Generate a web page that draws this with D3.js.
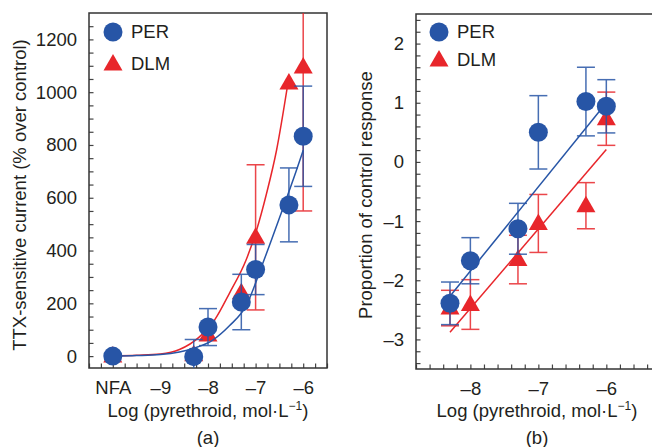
<!DOCTYPE html>
<html>
<head>
<meta charset="utf-8">
<script src="https://cdn.jsdelivr.net/npm/d3@7"></script>
<style>
  body { margin: 0; background: #fff; }
  svg text { font-family: "Liberation Sans", Arial, sans-serif; fill: #231f20; }
</style>
</head>
<body>
<svg id="content" width="652" height="447"></svg>
<script>
// colours
const BLUE = "#2755a6", RED = "#e8262b", INK = "#231f20";

// ---- panel (a) data: TTX-sensitive current (% over control)
const aDoses = [-10, -8.3, -8, -7.3, -7, -6.3, -6];          // -10 stands for NFA
const aPER = [0, -2, 110, 205, 328, 573, 833];
const aPERerr = [0, 65, 70, 105, 95, 140, 190];
const aDLM = [0, 5, 80, 240, 450, 1035, 1095];
const aDLMerr = [0, 0, 0, 0, 275, 0, 545];
// fitted curves
const aPERfitX = [-10, -9.5, -9, -8.6, -8.3, -7.9, -7.55, -7.2, -6.85, -6.49, -6.14, -6];
const aPERfitY = [0, 2, 6, 16, 30, 61, 115, 190, 351, 528, 705, 780];
const aDLMfitX = [-10, -9.5, -9, -8.6, -8.18, -7.85, -7.55, -7.2, -6.98, -6.77, -6.56, -6.32];
const aDLMfitY = [0, 3, 8, 25, 73, 140, 238, 364, 477, 616, 780, 1035];
const aXTicks = [-10, -9, -8, -7, -6];
const aXLabels = ["NFA", "–9", "–8", "–7", "–6"];
const aYTicks = [0, 200, 400, 600, 800, 1000, 1200];

// ---- panel (b) data: proportion of control response
const bDoses = [-8.3, -8, -7.3, -7, -6.3, -6];
const bPER = [-2.39, -1.67, -1.13, 0.50, 1.02, 0.94];
const bPERerr = [0.36, 0.39, 0.43, 0.62, 0.58, 0.45];
const bDLM = [-2.47, -2.41, -1.65, -1.04, -0.74, 0.73];
const bDLMerr = [0.30, 0.42, 0.41, 0.49, 0.39, 0.45];
const bPERlineX = [-8.3, -6], bPERlineY = [-2.27, 1.0];
const bDLMlineX = [-8.3, -6], bDLMlineY = [-2.88, 0.21];
const bXTicks = [-8, -7, -6];
const bXLabels = ["–8", "–7", "–6"];
const bYTicks = [-3, -2, -1, 0, 1, 2];
const bYLabels = ["–3", "–2", "–1", "0", "1", "2"];

const svg = d3.select("#content");
const tri = "M0,-10L9.5,6.5L-9.5,6.5Z";

function panel(o) {
    const g = svg.append("g").attr("transform", `translate(${o.left},${o.top})`);
    const w = o.right - o.left, h = o.bottom - o.top;
    const x = d3.scaleLinear().domain(o.xDomain).range([0, w]);
    const y = d3.scaleLinear().domain(o.yDomain).range([h, 0]);

    g.append("clipPath").attr("id", o.id + "clip")
        .append("rect").attr("width", w).attr("height", h);

    // minor ticks (inside)
    g.append("g").attr("transform", `translate(0,${h})`)
        .call(d3.axisBottom(x).tickValues(o.xMinor).tickSize(-4.5).tickFormat(""))
        .call(a => a.select(".domain").remove());
    g.append("g")
        .call(d3.axisLeft(y).tickValues(o.yMinor).tickSize(-4.5).tickFormat(""))
        .call(a => a.select(".domain").remove());
    g.selectAll(".tick line").attr("stroke", "#444").attr("stroke-width", 1.2);

    // tick labels
    const xl = g.append("g").attr("transform", `translate(0,${h})`)
        .call(d3.axisBottom(x).tickValues(o.xTicks).tickSize(0).tickPadding(13)
            .tickFormat((d, i) => o.xLabels[i]));
    const yl = g.append("g")
        .call(d3.axisLeft(y).tickValues(o.yTicks).tickSize(0).tickPadding(12)
            .tickFormat((d, i) => o.yLabels ? o.yLabels[i] : d));
    [xl, yl].forEach(a => {
        a.select(".domain").remove();
        a.selectAll("text").attr("font-size", "18.5px").attr("fill", INK)
            .attr("font-family", "Liberation Sans, Arial, sans-serif");
    });

    // frame
    g.append("rect").attr("width", w).attr("height", h)
        .attr("fill", "none").attr("stroke", "#333").attr("stroke-width", 1.5);

    const plot = g.append("g").attr("clip-path", `url(#${o.id}clip)`);
    const line = d3.line().x(d => x(d[0])).y(d => y(d[1])).curve(o.curve);

    function errbars(vals, errs, col) {
        o.doses.forEach((d, i) => {
            if (!errs[i]) return;
            const cx = x(d), y0 = y(vals[i] - errs[i]), y1 = y(vals[i] + errs[i]);
            const e = plot.append("g").attr("stroke", col).attr("stroke-width", 1.5).attr("opacity", 0.85);
            e.append("line").attr("x1", cx).attr("x2", cx).attr("y1", y0).attr("y2", y1);
            e.append("line").attr("x1", cx - 9).attr("x2", cx + 9).attr("y1", y0).attr("y2", y0);
            e.append("line").attr("x1", cx - 9).attr("x2", cx + 9).attr("y1", y1).attr("y2", y1);
        });
    }
    function fit(xs, ys, col) {
        plot.append("path").datum(d3.zip(xs, ys)).attr("d", line)
            .attr("fill", "none").attr("stroke", col).attr("stroke-width", 1.5);
    }

    // red series first, blue on top
    errbars(o.dlm, o.dlmErr, RED);
    fit(o.dlmFitX, o.dlmFitY, RED);
    plot.selectAll(".tri").data(o.doses).enter().append("path")
        .attr("d", tri).attr("fill", RED)
        .attr("transform", (d, i) => `translate(${x(d)},${y(o.dlm[i])})`);
    errbars(o.per, o.perErr, BLUE);
    fit(o.perFitX, o.perFitY, BLUE);
    plot.selectAll(".dot").data(o.doses).enter().append("circle")
        .attr("cx", d => x(d)).attr("cy", (d, i) => y(o.per[i])).attr("r", 9.5)
        .attr("fill", BLUE);

    // legend
    const lg = g.append("g").attr("transform", `translate(${o.legX},${o.legY})`);
    lg.append("circle").attr("r", 9.5).attr("fill", BLUE);
    lg.append("path").attr("d", tri).attr("fill", RED).attr("transform", `translate(0,${o.legGap})`);
    lg.append("text").attr("x", 18).attr("y", 0).attr("dy", "0.35em").attr("font-size", "18.5px").text("PER");
    lg.append("text").attr("x", 18).attr("y", o.legGap).attr("dy", "0.35em").attr("font-size", "18.5px").text("DLM");

    // axis titles
    const xt = svg.append("text").attr("x", o.xTitleX).attr("y", 417)
        .attr("text-anchor", "middle").attr("font-size", "18.5px");
    xt.append("tspan").text("Log (pyrethroid, mol·L");
    xt.append("tspan").attr("dy", -7).attr("font-size", "12px").text("−1");
    xt.append("tspan").attr("dy", 7).text(")");
    svg.append("text").attr("transform", `translate(${o.yTitleX},195) rotate(-90)`)
        .attr("text-anchor", "middle").attr("font-size", "18.5px").text(o.yTitle);
    svg.append("text").attr("x", o.xTitleX).attr("y", 444)
        .attr("text-anchor", "middle").attr("font-size", "18.5px").text(o.tag);
}

panel({
    id: "a", left: 89, right: 327, top: 13, bottom: 368,
    xDomain: [-10.5, -5.5], yDomain: [-45, 1300],
    xMinor: d3.range(-10.5, -5.49, 0.25), yMinor: d3.range(0, 1300, 50),
    xTicks: aXTicks, xLabels: aXLabels, yTicks: aYTicks,
    doses: aDoses, per: aPER, perErr: aPERerr, dlm: aDLM, dlmErr: aDLMerr,
    perFitX: aPERfitX, perFitY: aPERfitY, dlmFitX: aDLMfitX, dlmFitY: aDLMfitY,
    curve: d3.curveMonotoneX,
    legX: 24, legY: 19, legGap: 32,
    xTitleX: 208, yTitleX: 25.5, yTitle: "TTX-sensitive current (% over control)", tag: "(a)"
});

panel({
    id: "b", left: 416, right: 660.7, top: 14, bottom: 369,
    xDomain: [-8.8, -5.2], yDomain: [-3.5, 2.5],
    xMinor: d3.range(-8.8, -5.19, 0.2), yMinor: d3.range(-3.4, 2.41, 0.2),
    xTicks: bXTicks, xLabels: bXLabels, yTicks: bYTicks, yLabels: bYLabels,
    doses: bDoses, per: bPER, perErr: bPERerr, dlm: bDLM, dlmErr: bDLMerr,
    perFitX: bPERlineX, perFitY: bPERlineY, dlmFitX: bDLMlineX, dlmFitY: bDLMlineY,
    curve: d3.curveLinear,
    legX: 23, legY: 18, legGap: 28,
    xTitleX: 537, yTitleX: 372, yTitle: "Proportion of control response", tag: "(b)"
});
</script>
</body>
</html>
